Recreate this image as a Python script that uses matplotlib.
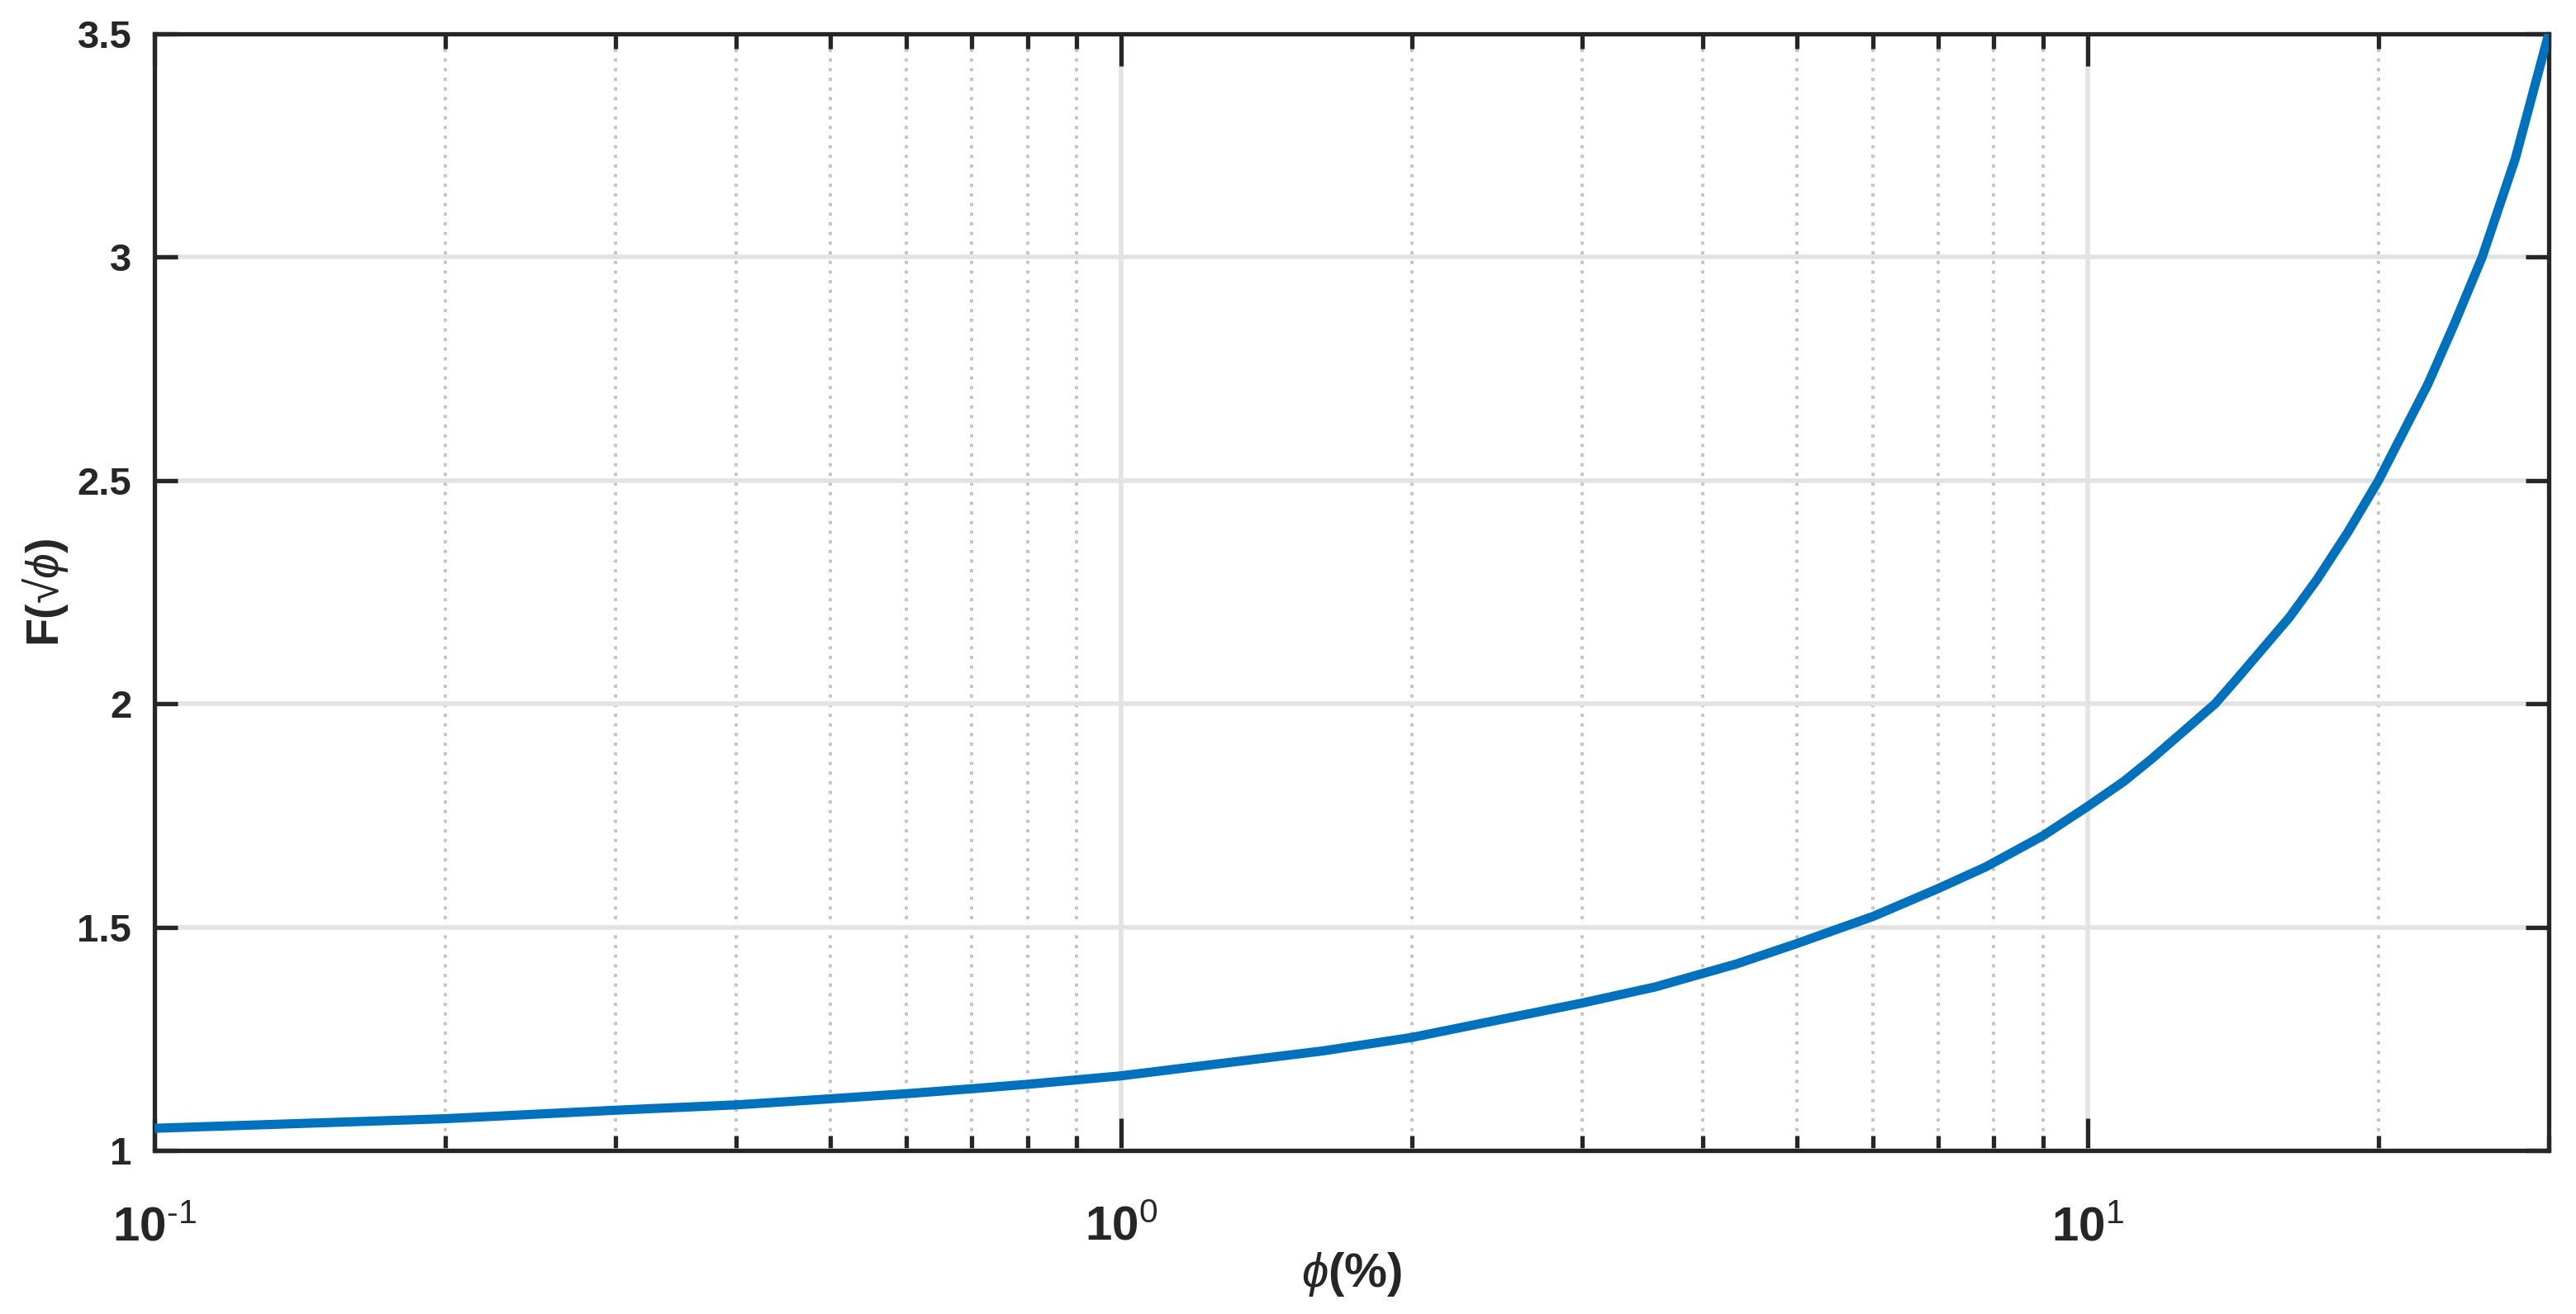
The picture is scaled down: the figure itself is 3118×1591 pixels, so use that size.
import numpy as np
import matplotlib
matplotlib.use('Agg')
import matplotlib.pyplot as plt
from matplotlib.ticker import FixedLocator, FuncFormatter, LogLocator, NullFormatter

plt.rcParams['font.family'] = ['Liberation Sans', 'DejaVu Sans']
plt.rcParams['mathtext.fontset'] = 'custom'
plt.rcParams['mathtext.rm'] = 'Liberation Sans'
plt.rcParams['mathtext.it'] = 'Liberation Sans:italic'
plt.rcParams['mathtext.bf'] = 'Liberation Sans:bold'

# values
phi = [0.1, 0.2, 0.3, 0.4, 0.5, 0.6, 0.7, 0.8, 0.9, 1.0, 1.62, 2.0, 3.0, 3.57,
       4.34, 5.0, 6.0, 7.0, 7.85, 9.0, 10.0, 10.9, 11.64, 12.5, 13.55, 14.3,
       15.13, 16.18, 17.27, 18.6, 20.0, 22.5, 24.0, 25.6, 27.7, 28.9, 30.0]
F = [1.0495, 1.071, 1.090, 1.102, 1.1155, 1.127, 1.138, 1.148, 1.158, 1.167,
     1.223, 1.253, 1.330, 1.366, 1.418, 1.463, 1.524, 1.586, 1.635, 1.705,
     1.770, 1.826, 1.876, 1.934, 2.000, 2.058, 2.120, 2.194, 2.278, 2.385,
     2.500, 2.716, 2.854, 3.000, 3.220, 3.369, 3.500]
yticks = [1, 1.5, 2, 2.5, 3, 3.5]
xticks = [0.1, 1, 10]

fig = plt.figure(figsize=(15.59, 7.955), dpi=200)
ax = fig.add_axes([0.060, 0.1245, 0.9294, 0.8497])

ax.plot(phi, F, color='#0072BD', lw=4.0, solid_capstyle='butt',
        solid_joinstyle='round', zorder=3)

ax.set_xscale('log')
ax.set_xlim(0.1, 30)
ax.set_ylim(1, 3.5)
ax.xaxis.set_major_locator(FixedLocator(xticks))
ax.xaxis.set_minor_locator(LogLocator(base=10, subs=np.arange(2, 10)))
ax.xaxis.set_minor_formatter(NullFormatter())
ax.xaxis.set_major_formatter(FuncFormatter(
    lambda v, p: r'$\mathbf{10^{\text{%d}}}$' % int(round(np.log10(v)))))
ax.yaxis.set_major_locator(FixedLocator(yticks))
ax.yaxis.set_major_formatter(FuncFormatter(lambda v, p: ('%g' % v)))

ax.grid(which='major', color='#E3E3E3', lw=2.0, ls='-', zorder=0)
ax.grid(which='minor', axis='x', color='#C4C4C4', lw=1.4, ls=(0, (1, 2)), zorder=0)
ax.set_axisbelow(True)

for s in ax.spines.values():
    s.set_linewidth(1.9)
    s.set_color('#262626')

ax.tick_params(axis='both', which='both', direction='in', top=True, right=True,
               colors='#262626', width=1.9)
ax.tick_params(axis='x', which='major', length=14, pad=24, labelsize=21)
ax.tick_params(axis='x', which='minor', length=6.5)
ax.tick_params(axis='y', which='major', length=10, pad=10, labelsize=17)
for lab in ax.get_yticklabels():
    lab.set_fontweight('bold')

ax.set_xlabel(r'$\phi\mathbf{(\%)}$', fontsize=21, color='#262626', labelpad=0)
ax.set_ylabel(r'$\mathbf{F(}$√$\phi\mathbf{)}$', fontsize=20, color='#262626', labelpad=3)

fig.savefig('out.png', dpi=200, facecolor='white')
